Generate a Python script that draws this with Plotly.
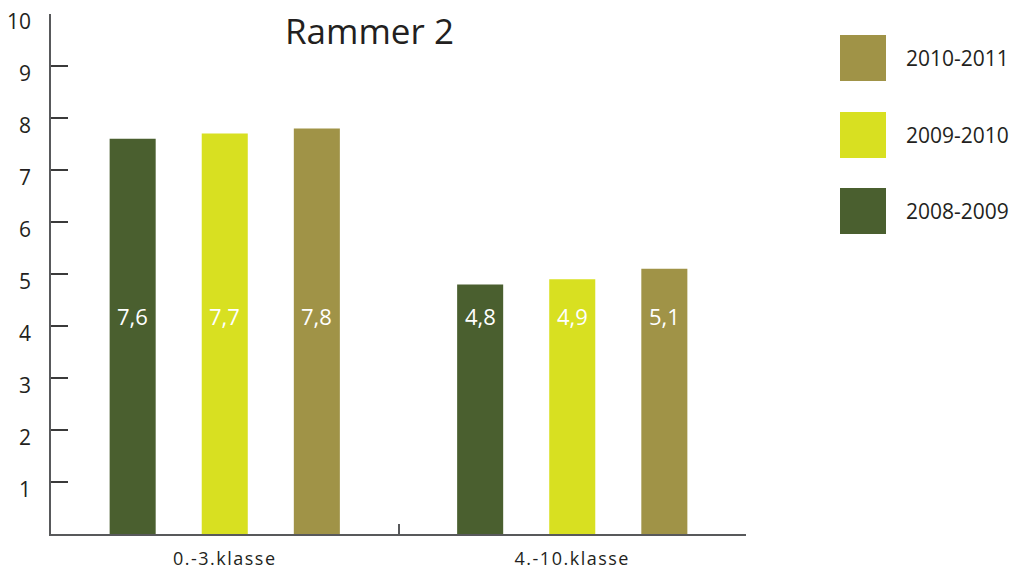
import plotly.graph_objects as go

categories = ["0.-3.klasse", "4.-10.klasse"]
series_names = ["2008-2009", "2009-2010", "2010-2011"]
series_values = [
    [7.6, 4.8],
    [7.7, 4.9],
    [7.8, 5.1],
]
colors = ["#4a5f2f", "#d8e021", "#a09347"]
y_ticks = [1, 2, 3, 4, 5, 6, 7, 8, 9, 10]

FONT = "Open Sans"
TXT = "#231f20"
OFF = 8  # default page body margin
W, H = 1018 - OFF, 569 - OFF
ML, MT = 51 - OFF, 14 - OFF
MR = W - (746 - OFF)
MB = H - (534 - OFF)
BARGAP = 0.205
plot_w = W - ML - MR
plot_h = H - MT - MB
slot = plot_w / len(categories) * (1 - BARGAP) / len(series_names)


def px_to_paper_x(px):
    return (px - OFF - ML) / plot_w


def px_to_paper_y(py):
    return (H - MB - (py - OFF)) / plot_h


def spaced(s, ls):
    return f'<span style="letter-spacing:{ls}px">{s}</span>'


fig = go.Figure()
for name, vals, col in zip(series_names, series_values, colors):
    fig.add_trace(go.Bar(x=categories, y=vals, name=name, marker_color=col,
                         marker_line_width=0, showlegend=False))

annotations = []
for i, vals in enumerate(series_values):
    for cat, v in zip(categories, vals):
        annotations.append(dict(
            x=cat, y=4.2, xref="x", yref="y", text=f"{v:.1f}".replace(".", ","),
            showarrow=False, xshift=(i - 1) * slot,
            font=dict(family=FONT, size=22, color="white")))

# Manual legend (top = last series)
box_tops = [35, 112, 188]
box_size = 46
for k, idx in enumerate(reversed(range(len(series_names)))):
    top = box_tops[k]
    y0 = px_to_paper_y(top)
    y1 = px_to_paper_y(top + box_size)
    fig.add_shape(type="rect", xref="paper", yref="paper",
                  x0=px_to_paper_x(840), x1=px_to_paper_x(840 + box_size), y0=y1, y1=y0,
                  fillcolor=colors[idx], line_width=0)
    annotations.append(dict(
        x=px_to_paper_x(904), y=(y0 + y1) / 2, xref="paper", yref="paper",
        xanchor="left", yanchor="middle", text=series_names[idx], showarrow=False,
        font=dict(family=FONT, size=21, color=TXT)))

annotations.append(dict(
    x=px_to_paper_x(369), y=px_to_paper_y(30), xref="paper", yref="paper",
    xanchor="center", yanchor="middle", text="Rammer 2", showarrow=False,
    font=dict(family=FONT, size=35, color=TXT)))

fig.update_layout(
    width=W, height=H,
    margin=dict(l=ML, r=MR, t=MT, b=MB, autoexpand=False),
    paper_bgcolor="white", plot_bgcolor="white",
    barmode="group", bargap=BARGAP, bargroupgap=0.5,
    annotations=annotations,
    font=dict(family=FONT, color=TXT),
    xaxis=dict(
        automargin=False,
        tickmode="array", tickvals=categories,
        ticktext=[spaced(c, 1.5) for c in categories],
        showline=True, linecolor="#58595b", linewidth=1.5,
        ticks="inside", ticklen=10, tickcolor="#58595b", tickwidth=1.5,
        tickson="boundaries", showgrid=False, ticklabelstandoff=8,
        tickfont=dict(family=FONT, size=18, color=TXT),
    ),
    yaxis=dict(
        automargin=False, ticklabeloverflow="allow",
        range=[0, 10], tickvals=y_ticks, ticktext=[str(t) for t in y_ticks],
        showline=True, linecolor="#58595b", linewidth=1.5,
        ticks="inside", ticklen=17, tickcolor="#3a3a3a", tickwidth=1.5,
        showgrid=False, zeroline=False, ticklabelstandoff=14, ticklabelshift=8,
        tickfont=dict(family=FONT, size=21, color=TXT),
    ),
)

fig.write_html("out.html")
